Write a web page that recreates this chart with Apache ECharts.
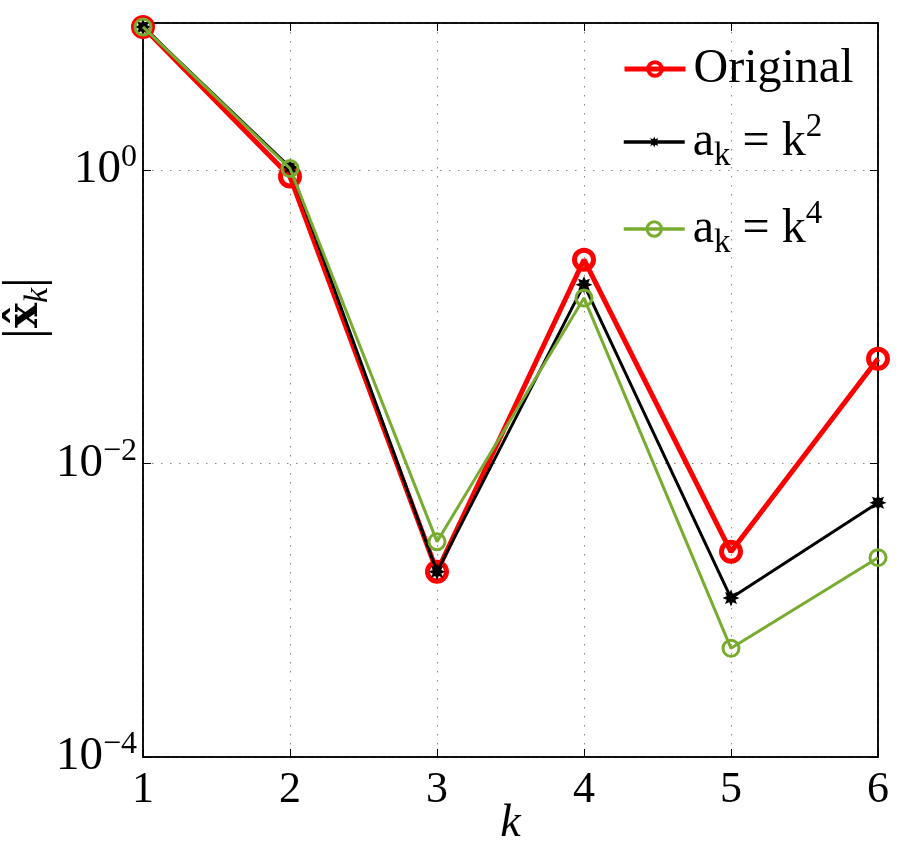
<!DOCTYPE html>
<html>
<head>
<meta charset="utf-8">
<script src="https://cdn.jsdelivr.net/npm/echarts@6/dist/echarts.min.js"></script>
<style>
  html, body { margin: 0; padding: 0; background: #fff; }
  #chart { width: 907px; height: 850px; }
</style>
</head>
<body>
<div id="chart"></div>
<script>
// data
var kValues = [1, 2, 3, 4, 5, 6];
var original = [9.4, 0.9, 0.00183, 0.244, 0.0025, 0.0516];
var ak2 = [9.4, 1.04, 0.00183, 0.165, 0.00121, 0.0054];
var ak4 = [9.4, 1.02, 0.00293, 0.134, 0.00055, 0.00228];

var FONT = "Liberation Serif";

function pairs(ys) {
  return kValues.map(function (k, i) { return [k, ys[i]]; });
}

// asterisk-like marker
function starPath(n, r0, r1) {
  var d = "";
  for (var i = 0; i < 2 * n; i++) {
    var a = (i * Math.PI) / n - Math.PI / 2;
    var r = i % 2 ? r0 : r1;
    d += (i ? "L" : "M") + (r * Math.cos(a)).toFixed(3) + " " + (r * Math.sin(a)).toFixed(3);
  }
  return "path://" + d + "Z";
}
var asterisk = starPath(8, 0.55, 1);

var richLegend = {
  t: { fontFamily: FONT, fontSize: 48, lineHeight: 62, color: "#000" },
  sub: { fontFamily: FONT, fontSize: 33, lineHeight: 62, verticalAlign: "bottom", color: "#000" },
  sup: { fontFamily: FONT, fontSize: 33, lineHeight: 62, verticalAlign: "top", color: "#000" }
};

function legendItem(name, top, h, lw, bw, fmt) {
  return {
    data: [name],
    left: 622,
    top: top,
    padding: 0,
    orient: "vertical",
    itemWidth: 61,
    itemHeight: h,
    selectedMode: false,
    formatter: fmt,
    lineStyle: { width: lw },
    itemStyle: { borderWidth: bw },
    textStyle: {
      fontFamily: FONT,
      fontSize: 48,
      lineHeight: 48,
      color: "#000",
      padding: [0, 0, 0, 3],
      rich: richLegend
    }
  };
}

var myChart = echarts.init(document.getElementById("chart"));

myChart.setOption({
  animation: false,
  backgroundColor: "#fff",
  grid: {
    left: 143, right: 29, top: 23, bottom: 93,
    outerBoundsMode: "none",
    containLabel: false,
    show: true, borderColor: "#000", borderWidth: 1.5
  },
  legend: [
    legendItem("Original", 38, 17, 5, 4, "{t|Original}"),
    legendItem("ak2", 111, 14, 3.5, 0, "{t|a}{sub|k}{t| = k}{sup|2}"),
    legendItem("ak4", 198, 18, 3.5, 3, "{t|a}{sub|k}{t| = k}{sup|4}")
  ],
  xAxis: [
    {
      type: "value",
      min: 1,
      max: 6,
      interval: 1,
      name: "k",
      nameLocation: "middle",
      nameGap: 44,
      nameMoveOverlap: false,
      nameTextStyle: { fontFamily: FONT, fontStyle: "italic", fontSize: 46, color: "#000" },
      axisLine: { lineStyle: { color: "#000", width: 1.5 } },
      axisTick: { inside: true, length: 8, lineStyle: { color: "#000" } },
      axisLabel: { fontFamily: FONT, fontSize: 44, color: "#000", margin: 11 },
      splitLine: { show: true, lineStyle: { color: "#888", type: [1.5, 7.5], width: 1 } }
    },
    {
      type: "value",
      position: "top",
      min: 1,
      max: 6,
      interval: 1,
      axisLine: { lineStyle: { color: "#000", width: 1.5 } },
      axisTick: { inside: true, length: 8, lineStyle: { color: "#000" } },
      axisLabel: { show: false },
      splitLine: { show: false }
    }
  ],
  yAxis: [
    {
      type: "log",
      logBase: 10,
      min: 1e-4,
      max: 10,
      interval: 2,
      name: "{bar||}{x|x\u0302}{k|k}{bar||}",
      nameLocation: "middle",
      nameRotate: 90,
      nameGap: 88,
      nameMoveOverlap: false,
      nameTextStyle: {
        padding: [0, 0, 0, 164],
        rich: {
          bar: { fontFamily: FONT, fontSize: 54, color: "#000" },
          x: { fontFamily: "DejaVu Serif", fontWeight: "bold", fontSize: 42, color: "#000" },
          k: { fontFamily: FONT, fontStyle: "italic", fontSize: 34, color: "#000", verticalAlign: "bottom", lineHeight: 58 }
        }
      },
      axisLine: { lineStyle: { color: "#000", width: 1.5 } },
      axisTick: { inside: true, length: 8, lineStyle: { color: "#000" } },
      axisLabel: {
        margin: 6,
        showMaxLabel: false,
        formatter: function (v) {
          var e = Math.round(Math.log10(v));
          return "{b|10}{s|" + (e < 0 ? "\u2212" + -e : e) + "}";
        },
        rich: {
          b: { fontFamily: FONT, fontSize: 47, lineHeight: 56, color: "#000" },
          s: { fontFamily: FONT, fontSize: 32, lineHeight: 56, verticalAlign: "top", color: "#000" }
        }
      },
      splitLine: { show: true, lineStyle: { color: "#888", type: [1.5, 7.5], width: 1 } }
    },
    {
      type: "log",
      logBase: 10,
      position: "right",
      min: 1e-4,
      max: 10,
      interval: 2,
      axisLine: { lineStyle: { color: "#000", width: 1.5 } },
      axisTick: { inside: true, length: 8, lineStyle: { color: "#000" } },
      axisLabel: { show: false },
      splitLine: { show: false }
    }
  ],
  series: [
    {
      name: "Original",
      type: "line",
      data: pairs(original),
      symbol: "circle",
      symbolSize: 19,
      color: "#ff0000",
      lineStyle: { color: "#ff0000", width: 5 },
      itemStyle: { color: "rgba(0,0,0,0)", borderColor: "#ff0000", borderWidth: 5 },
      z: 2
    },
    {
      name: "ak2",
      type: "line",
      data: pairs(ak2),
      symbol: asterisk,
      symbolSize: 17,
      color: "#000",
      lineStyle: { color: "#000", width: 3 },
      itemStyle: { color: "#000", borderWidth: 0 },
      z: 3
    },
    {
      name: "ak4",
      type: "line",
      data: pairs(ak4),
      symbol: "circle",
      symbolSize: 16,
      color: "#77ac30",
      lineStyle: { color: "#77ac30", width: 3 },
      itemStyle: { color: "rgba(0,0,0,0)", borderColor: "#77ac30", borderWidth: 3 },
      z: 4
    }
  ]
});
</script>
</body>
</html>
